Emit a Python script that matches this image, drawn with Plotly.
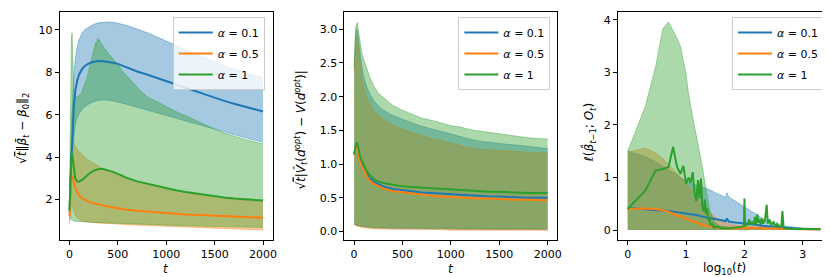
import plotly.graph_objects as go

# ---------------- data ----------------
# Panel 1: sqrt(t)||beta_bar_t - beta_0||_2
t1 = [1, 5, 10, 15, 20, 27, 35, 45, 60, 80, 100, 130, 160, 200, 250, 300, 350, 400, 450, 500,
      600, 700, 800, 900, 1000, 1100, 1200, 1300, 1400, 1500, 1600, 1700, 1800, 1900, 2000]
b1_mean = [1.4, 2.3, 3.0, 3.6, 4.0, 4.4, 5.5, 6.4, 7.1, 7.6, 7.9, 8.15, 8.3, 8.42, 8.5, 8.53, 8.52, 8.5, 8.45, 8.4,
           8.22, 8.04, 7.9, 7.75, 7.6, 7.43, 7.27, 7.12, 6.96, 6.8, 6.65, 6.52, 6.4, 6.27, 6.15]
b1_up = [1.9, 3.0, 4.0, 4.8, 5.4, 6.2, 7.0, 7.8, 8.6, 9.2, 9.55, 9.85, 10.02, 10.15, 10.27, 10.34, 10.37, 10.38, 10.36, 10.32,
         10.2, 10.05, 9.88, 9.68, 9.47, 9.27, 9.07, 8.87, 8.68, 8.5, 8.32, 8.16, 8.01, 7.87, 7.75]
b1_lo = [1.0, 1.6, 2.2, 2.8, 3.3, 3.9, 4.5, 5.0, 5.5, 5.85, 6.05, 6.25, 6.38, 6.5, 6.61, 6.68, 6.7, 6.69, 6.65, 6.6,
         6.48, 6.35, 6.22, 6.08, 5.95, 5.81, 5.68, 5.55, 5.42, 5.3, 5.18, 5.05, 4.93, 4.81, 4.7]
o1_mean = [1.2, 1.8, 2.4, 2.8, 3.0, 3.12, 3.05, 2.85, 2.55, 2.35, 2.2, 2.05, 1.96, 1.88, 1.81, 1.75, 1.7, 1.66, 1.62, 1.58,
           1.51, 1.46, 1.42, 1.38, 1.35, 1.32, 1.29, 1.27, 1.25, 1.23, 1.21, 1.19, 1.17, 1.15, 1.13]
o1_up = [1.6, 2.6, 3.5, 4.1, 4.5, 4.75, 4.8, 4.7, 4.5, 4.35, 4.25, 4.1, 3.98, 3.85, 3.7, 3.56, 3.44, 3.33, 3.22, 3.13,
         2.98, 2.85, 2.72, 2.6, 2.5, 2.41, 2.32, 2.25, 2.18, 2.11, 2.05, 2.0, 1.96, 1.92, 1.89]
o1_lo = [0.8, 1.2, 1.5, 1.65, 1.72, 1.75, 1.6, 1.42, 1.25, 1.12, 1.05, 0.98, 0.95, 0.92, 0.9, 0.88, 0.86, 0.85, 0.84, 0.83,
         0.8, 0.78, 0.76, 0.74, 0.72, 0.7, 0.68, 0.66, 0.64, 0.63, 0.61, 0.6, 0.58, 0.57, 0.56]
g1_mean = [1.5, 2.3, 3.0, 3.6, 4.0, 4.2, 3.9, 3.4, 3.0, 2.85, 2.83, 2.92, 3.05, 3.2, 3.35, 3.43, 3.43, 3.38, 3.3, 3.2,
           3.0, 2.85, 2.74, 2.62, 2.52, 2.43, 2.35, 2.28, 2.21, 2.15, 2.09, 2.04, 2.0, 1.97, 1.94]
g1_lo = [1.5, 1.3, 1.15, 1.08, 1.04, 1.02, 1.0, 0.98, 0.97, 0.96, 0.95, 0.94, 0.93, 0.92, 0.91, 0.9, 0.89, 0.88, 0.87, 0.86,
         0.84, 0.82, 0.8, 0.79, 0.77, 0.76, 0.75, 0.74, 0.73, 0.72, 0.71, 0.7, 0.69, 0.68, 0.67]
g1u_t = [1, 5, 10, 15, 20, 27, 35, 45, 60, 80, 100, 120, 140, 160, 180, 200, 220, 240, 260, 270,
         280, 290, 300, 310, 320, 340, 360, 380, 400, 430, 460, 500, 540, 580, 620, 660, 700, 740, 780, 800,
         900, 1000, 1100, 1200, 1300, 1400, 1500, 1600, 1700, 1800, 1900, 2000]
g1_up = [2.0, 4.5, 7.0, 8.6, 9.5, 9.87, 8.9, 7.2, 6.8, 6.85, 6.9, 7.0, 7.25, 7.45, 7.7, 8.1, 8.5, 8.95, 9.2, 9.4,
         9.3, 9.62, 9.45, 9.55, 9.4, 9.3, 9.1, 9.05, 8.9, 8.75, 8.55, 8.38, 8.1, 7.9, 7.7, 7.45, 7.25, 7.1, 6.95, 6.85,
         6.62, 6.38, 6.15, 5.95, 5.73, 5.52, 5.32, 5.13, 4.98, 4.85, 4.73, 4.62]

# Panel 2: sqrt(t)|V_hat_t(d_opt) - V(d_opt)|
t2 = [1, 5, 10, 15, 20, 27, 35, 45, 60, 80, 100, 130, 160, 200, 250, 300, 400, 500, 600, 700,
      800, 900, 1000, 1100, 1200, 1300, 1400, 1500, 1600, 1700, 1800, 1900, 2000]
b2_mean = [1.14, 1.18, 1.22, 1.25, 1.27, 1.28, 1.26, 1.2, 1.08, 1.0, 0.95, 0.85, 0.79, 0.74, 0.7, 0.67, 0.63, 0.61, 0.59, 0.58,
           0.57, 0.56, 0.55, 0.54, 0.53, 0.53, 0.52, 0.52, 0.51, 0.51, 0.5, 0.5, 0.5]
b2_up = [2.4, 2.65, 2.8, 2.9, 2.96, 3.0, 2.98, 2.85, 2.65, 2.45, 2.3, 2.15, 2.05, 1.95, 1.86, 1.8, 1.72, 1.66, 1.61, 1.56,
         1.52, 1.48, 1.44, 1.41, 1.37, 1.34, 1.32, 1.31, 1.29, 1.28, 1.26, 1.25, 1.23]
b2_lo = [0.11, 0.1, 0.1, 0.1, 0.09, 0.09, 0.09, 0.08, 0.08, 0.07, 0.07, 0.06, 0.06, 0.05, 0.05, 0.05, 0.04, 0.04, 0.04, 0.04,
         0.04, 0.03, 0.03, 0.03, 0.03, 0.03, 0.03, 0.03, 0.03, 0.03, 0.03, 0.03, 0.03]
o2_mean = [1.13, 1.17, 1.2, 1.23, 1.25, 1.25, 1.23, 1.16, 1.04, 0.97, 0.92, 0.82, 0.76, 0.71, 0.67, 0.64, 0.6, 0.58, 0.56, 0.54,
           0.53, 0.52, 0.51, 0.5, 0.5, 0.49, 0.49, 0.48, 0.48, 0.47, 0.47, 0.47, 0.465]
o2_up = [2.35, 2.55, 2.7, 2.8, 2.86, 2.9, 2.86, 2.72, 2.5, 2.3, 2.15, 2.0, 1.9, 1.8, 1.72, 1.67, 1.58, 1.52, 1.47, 1.42,
         1.38, 1.35, 1.31, 1.27, 1.24, 1.22, 1.21, 1.2, 1.2, 1.19, 1.18, 1.17, 1.16]
o2_lo = [0.1, 0.1, 0.09, 0.09, 0.09, 0.08, 0.08, 0.07, 0.07, 0.06, 0.06, 0.05, 0.05, 0.04, 0.04, 0.04, 0.03, 0.03, 0.03, 0.03,
         0.03, 0.03, 0.02, 0.02, 0.02, 0.02, 0.02, 0.02, 0.02, 0.02, 0.02, 0.02, 0.02]
g2_mean = [1.15, 1.2, 1.25, 1.28, 1.3, 1.31, 1.3, 1.24, 1.12, 1.05, 1.0, 0.9, 0.84, 0.78, 0.74, 0.72, 0.69, 0.67, 0.66, 0.65,
           0.64, 0.63, 0.62, 0.61, 0.6, 0.6, 0.59, 0.59, 0.58, 0.58, 0.57, 0.57, 0.57]
g2_up = [2.45, 2.75, 2.9, 3.0, 3.05, 3.08, 3.1, 2.98, 2.8, 2.65, 2.55, 2.42, 2.3, 2.17, 2.05, 1.99, 1.87, 1.8, 1.74, 1.68,
         1.65, 1.61, 1.57, 1.55, 1.51, 1.49, 1.47, 1.44, 1.43, 1.41, 1.39, 1.38, 1.37]
g2_lo = [0.12, 0.11, 0.11, 0.1, 0.1, 0.1, 0.1, 0.09, 0.09, 0.08, 0.08, 0.07, 0.07, 0.06, 0.06, 0.06, 0.05, 0.05, 0.05, 0.05,
         0.05, 0.05, 0.05, 0.04, 0.04, 0.04, 0.04, 0.04, 0.04, 0.04, 0.04, 0.04, 0.04]

# Panel 3: loss vs log10(t)
b3_x = [0, 0.301, 0.477, 0.602, 0.699, 0.778, 0.845, 0.903, 0.954, 1.0, 1.1, 1.2, 1.3, 1.4, 1.5, 1.6,
        1.68, 1.70, 1.73, 1.8, 1.9, 2.0, 2.1, 2.2, 2.3, 2.4, 2.5, 2.6, 2.7, 2.8, 3.0, 3.3]
b3_up = [1.5, 1.4, 1.3, 1.22, 1.16, 1.1, 1.05, 1.0, 0.96, 0.93, 0.88, 0.84, 0.8, 0.77, 0.71, 0.66,
         0.62, 0.71, 0.63, 0.58, 0.51, 0.43, 0.36, 0.29, 0.22, 0.16, 0.12, 0.09, 0.07, 0.06, 0.04, 0.03]
b3_mean = [0.42, 0.4, 0.38, 0.37, 0.36, 0.35, 0.34, 0.33, 0.32, 0.31, 0.3, 0.28, 0.25, 0.23, 0.21, 0.19,
           0.17, 0.22, 0.16, 0.15, 0.14, 0.12, 0.11, 0.1, 0.08, 0.07, 0.06, 0.05, 0.04, 0.03, 0.02, 0.015]
o3_x = [0, 0.301, 0.477, 0.602, 0.699, 0.778, 0.845, 0.903, 0.954, 1.0, 1.1, 1.2, 1.3, 1.4, 1.5, 1.6,
        1.7, 1.8, 2.0, 2.2, 2.5, 2.8, 3.0, 3.3]
o3_up = [1.48, 1.56, 1.47, 1.36, 1.25, 1.16, 1.08, 1.0, 0.95, 0.9, 0.76, 0.61, 0.46, 0.35, 0.25, 0.18,
         0.13, 0.1, 0.07, 0.06, 0.04, 0.03, 0.02, 0.01]
o3_mean = [0.4, 0.41, 0.4, 0.38, 0.35, 0.31, 0.28, 0.26, 0.24, 0.22, 0.17, 0.13, 0.09, 0.07, 0.05, 0.04,
           0.035, 0.03, 0.04, 0.04, 0.03, 0.02, 0.015, 0.01]
g3b_x = [0, 0.301, 0.477, 0.602, 0.699, 0.778, 0.845, 0.903, 0.954, 1.0,
         1.041, 1.079, 1.114, 1.146, 1.176, 1.204, 1.230, 1.255, 1.279, 1.301, 1.322, 1.342, 1.362, 1.380,
         1.398, 1.415, 1.447, 1.477, 1.505, 1.544, 1.602, 1.7, 1.8, 2.0, 2.3, 2.6, 3.0, 3.3]
g3_up = [1.5, 2.35, 3.1, 3.83, 3.96, 3.8, 3.65, 3.5, 3.22, 2.97,
         2.6, 2.35, 2.15, 1.95, 1.8, 1.65, 1.5, 1.35, 1.2, 1.05, 0.9, 0.75, 0.62, 0.52,
         0.42, 0.35, 0.25, 0.18, 0.13, 0.1, 0.07, 0.06, 0.05, 0.05, 0.05, 0.04, 0.02, 0.02]
g3m_x = [0, 0.301, 0.477, 0.602, 0.699, 0.778, 0.845, 0.903, 0.954, 1.0,
         1.041, 1.079, 1.114, 1.146, 1.176, 1.204, 1.230, 1.255, 1.279, 1.301, 1.322, 1.342, 1.362, 1.380,
         1.398, 1.415, 1.447, 1.477, 1.5, 1.6, 1.7, 1.8, 1.9, 1.95, 1.99,
         2.0, 2.01, 2.05, 2.08, 2.1, 2.13, 2.16, 2.18, 2.2, 2.22,
         2.24, 2.26, 2.28, 2.3, 2.32, 2.35, 2.38, 2.4, 2.43, 2.46,
         2.5, 2.53, 2.56, 2.6, 2.63, 2.65, 2.67, 2.7, 2.8, 3.0, 3.3]
g3_mean = [0.4, 0.75, 1.13, 1.16, 1.2, 1.58, 1.2, 1.07, 1.22, 0.88,
           1.0, 0.9, 1.1, 0.7, 0.55, 0.95, 0.6, 0.98, 0.45, 0.35, 0.58, 0.3, 0.42, 0.18,
           0.25, 0.1, 0.12, 0.05, 0.07, 0.04, 0.03, 0.04, 0.05, 0.06, 0.08,
           0.6, 0.08, 0.1, 0.2, 0.12, 0.15, 0.1, 0.25, 0.12, 0.3,
           0.14, 0.2, 0.1, 0.22, 0.12, 0.18, 0.48, 0.12, 0.2, 0.1,
           0.15, 0.07, 0.12, 0.06, 0.08, 0.36, 0.05, 0.03, 0.02, 0.02, 0.02]

labels = ["<i>α</i> = 0.1", "<i>α</i> = 0.5", "<i>α</i> = 1"]

# ---------------- styling ----------------
W, H = 830, 277
BLUE = (31, 119, 180)
ORANGE = (255, 127, 14)
GREEN = (44, 160, 44)
FONT = "DejaVu Sans"


def rgba(c, a):
    return f"rgba({c[0]},{c[1]},{c[2]},{a})"


fig = go.Figure()


def band(xl, lo, xu, up, c, xa, ya):
    fig.add_trace(go.Scatter(x=xl, y=lo, mode="lines", line=dict(color=rgba(c, 0.4), width=1),
                             xaxis=xa, yaxis=ya, showlegend=False, hoverinfo="skip"))
    fig.add_trace(go.Scatter(x=xu, y=up, mode="lines", line=dict(color=rgba(c, 0.4), width=1),
                             fill="tonexty", fillcolor=rgba(c, 0.4),
                             xaxis=xa, yaxis=ya, showlegend=False, hoverinfo="skip"))


def band0(xu, up, c, xa, ya):
    fig.add_trace(go.Scatter(x=xu, y=up, mode="lines", line=dict(color=rgba(c, 0.4), width=1),
                             fill="tozeroy", fillcolor=rgba(c, 0.4),
                             xaxis=xa, yaxis=ya, showlegend=False, hoverinfo="skip"))


def mean(x, y, c, name, xa, ya, lg, grp):
    fig.add_trace(go.Scatter(x=x, y=y, mode="lines", line=dict(color=rgba(c, 1), width=2),
                             name=name, xaxis=xa, yaxis=ya, legend=lg,
                             legendgroup=f"{lg}-{grp}"))


# panel 1
band(t1, b1_lo, t1, b1_up, BLUE, "x", "y")
band(t1, o1_lo, t1, o1_up, ORANGE, "x", "y")
band(t1, g1_lo, g1u_t, g1_up, GREEN, "x", "y")
mean(t1, b1_mean, BLUE, labels[0], "x", "y", "legend", 1)
mean(t1, o1_mean, ORANGE, labels[1], "x", "y", "legend", 2)
mean(t1, g1_mean, GREEN, labels[2], "x", "y", "legend", 3)

# panel 2
band(t2, b2_lo, t2, b2_up, BLUE, "x2", "y2")
band(t2, o2_lo, t2, o2_up, ORANGE, "x2", "y2")
band(t2, g2_lo, t2, g2_up, GREEN, "x2", "y2")
mean(t2, b2_mean, BLUE, labels[0], "x2", "y2", "legend2", 1)
mean(t2, o2_mean, ORANGE, labels[1], "x2", "y2", "legend2", 2)
mean(t2, g2_mean, GREEN, labels[2], "x2", "y2", "legend2", 3)

# panel 3
band0(b3_x, b3_up, BLUE, "x3", "y3")
band0(o3_x, o3_up, ORANGE, "x3", "y3")
band0(g3b_x, g3_up, GREEN, "x3", "y3")
mean(b3_x, b3_mean, BLUE, labels[0], "x3", "y3", "legend3", 1)
mean(o3_x, o3_mean, ORANGE, labels[1], "x3", "y3", "legend3", 2)
mean(g3m_x, g3_mean, GREEN, labels[2], "x3", "y3", "legend3", 3)

ydom = [1 - 232 / H, 1 - 4 / H]
tickfont = dict(family=FONT, size=11, color="black")


def axis(domain=None, rng=None, tickvals=None, anchor=None, fmt=None):
    d = dict(range=rng, tickvals=tickvals, anchor=anchor, showline=True, mirror=True,
             linecolor="black", linewidth=1, ticks="outside", ticklen=4, tickwidth=1,
             tickcolor="black", showgrid=False, zeroline=False, tickfont=tickfont)
    if domain is not None:
        d["domain"] = domain
    if fmt:
        d["tickformat"] = fmt
    return d


legend_style = dict(font=dict(family=FONT, size=11, color="black"),
                    bgcolor="rgba(255,255,255,0.8)", bordercolor="#cccccc", borderwidth=1,
                    xanchor="right", yanchor="top", xref="paper", yref="paper",
                    itemwidth=34, tracegroupgap=2, traceorder="grouped")

fig.update_layout(
    width=W, height=H, margin=dict(l=0, r=0, t=0, b=0),
    paper_bgcolor="white", plot_bgcolor="white",
    font=dict(family=FONT, size=11, color="black"),
    xaxis=axis([52 / W, 266 / W], [-100, 2100], [0, 500, 1000, 1500, 2000], "y"),
    yaxis=axis(ydom, [0.08, 10.85], [2, 4, 6, 8, 10], "x"),
    xaxis2=axis([338 / W, 552 / W], [-100, 2100], [0, 500, 1000, 1500, 2000], "y2"),
    yaxis2=axis(ydom, [-0.125, 3.255], [0, 0.5, 1.0, 1.5, 2.0, 2.5, 3.0], "x2", ".1f"),
    xaxis3=axis([613 / W, 826 / W], [-0.165, 3.465], [0, 1, 2, 3], "y3"),
    yaxis3=axis(ydom, [-0.19, 4.15], [0, 1, 2, 3, 4], "x3"),
    legend=dict(x=258 / W, y=1 - 9 / H, **legend_style),
    legend2=dict(x=545 / W, y=1 - 9 / H, **legend_style),
    legend3=dict(x=820 / W, y=1 - 9 / H, **legend_style),
    showlegend=True,
)

tfont = dict(family=FONT, size=12, color="black")
ann = [
    dict(text="<i>t</i>", x=159 / W, y=1 - 261 / H),
    dict(text="<i>t</i>", x=445 / W, y=1 - 261 / H),
    dict(text="log<sub>10</sub>(<i>t</i>)", x=719.5 / W, y=1 - 261 / H),
    dict(text="√<span style='text-decoration:overline'><i>t</i></span>‖<i>β̄</i><sub><i>t</i></sub> − <i>β</i><sub>0</sub>‖<sub>2</sub>",
         x=15 / W, y=1 - 120 / H, textangle=-90),
    dict(text="√<span style='text-decoration:overline'><i>t</i></span>|<i>V̂</i><sub><i>t</i></sub>(<i>d</i><sup><i>opt</i></sup>) − <i>V</i>(<i>d</i><sup><i>opt</i></sup>)|",
         x=294 / W, y=1 - 122 / H, textangle=-90),
    dict(text="<i>ℓ</i>(<i>β̂</i><sub><i>t</i>−1</sub>; <i>O</i><sub><i>t</i></sub>)",
         x=584 / W, y=1 - 125 / H, textangle=-90),
]
for a in ann:
    fig.add_annotation(xref="paper", yref="paper", showarrow=False, xanchor="center",
                       yanchor="middle", font=tfont, **a)

fig.write_html("out.html")
